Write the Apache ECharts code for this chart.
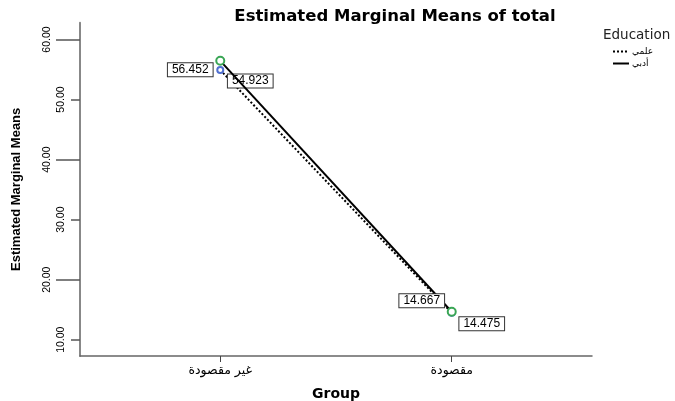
<!DOCTYPE html>
<html>
<head>
<meta charset="utf-8">
<title>Estimated Marginal Means of total</title>
<script src="https://cdn.jsdelivr.net/npm/echarts@6/dist/echarts.min.js"></script>
<style>
  html, body { margin: 0; padding: 0; background: #fff; }
  #main { width: 675px; height: 401px; }
</style>
</head>
<body>
<div id="main"></div>
<script>
// group categories (x positions 1 and 2)
var groups = ['غير مقصودة', 'مقصودة'];
var groupPos = [1, 2];
var seriesNames = ['علمي', 'أدبي'];
// estimated marginal means
var scientific = [54.923, 14.475];
var literary = [56.452, 14.667];
// y tick labels, staggered like SPSS
var yTicksOuter = [20, 40, 60];
var yTicksInner = [10, 30, 50];

var sans = "'Liberation Sans', Arial, sans-serif";

// label offsets [dx, dy] from each point
var offsSci = [[30, 11], [30, 11]];
var offsLit = [[-30, 9], [-30, -11]];

function buildData(vals, offs) {
  return vals.map(function (v, i) {
    return {
      value: [groupPos[i], v],
      label: { offset: offs[i] }
    };
  });
}

var labelStyle = {
  show: true,
  position: 'inside',
  formatter: function (p) { return p.value[1].toFixed(3); },
  color: '#000',
  fontFamily: sans,
  fontSize: 12,
  backgroundColor: '#fff',
  borderColor: '#333',
  borderWidth: 1,
  padding: [1, 4, 0, 4]
};

var tickLabel = {
  rotate: 90, fontFamily: sans, fontSize: 10.5, color: '#000',
  formatter: function (v) { return v.toFixed(2); }
};

var echart = echarts.init(document.getElementById('main'));
echart.setOption({
  animation: false,
  title: [{
    text: 'Estimated Marginal Means of total',
    left: 390, top: 3, textAlign: 'center',
    textStyle: { fontFamily: 'DejaVu Sans', fontSize: 16.5, fontWeight: 'bold', color: '#000' }
  }, {
    text: 'Education',
    left: 603, top: 28, padding: 0,
    textStyle: { fontFamily: 'DejaVu Sans', fontSize: 13.5, fontWeight: 'normal', color: '#222' }
  }],
  legend: {
    left: 612, top: 47, orient: 'vertical', padding: 0,
    itemWidth: 16, itemHeight: 8, itemGap: 3,
    itemStyle: { opacity: 0 },
    textStyle: { fontFamily: 'DejaVu Sans', fontSize: 9, color: '#000', padding: [0, 0, 0, -2] },
    data: seriesNames
  },
  grid: { left: 80, right: 83, top: 22.7, bottom: 45, outerBoundsMode: 'none', containLabel: false },
  xAxis: {
    type: 'value', min: 0.394, max: 2.606,
    name: 'Group', nameLocation: 'middle', nameGap: 31,
    nameTextStyle: { fontFamily: 'DejaVu Sans', fontSize: 14, fontWeight: 'bold', color: '#000' },
    splitLine: { show: false },
    axisLine: { lineStyle: { color: '#666', width: 1.5 } },
    axisTick: { customValues: groupPos, length: 6, lineStyle: { color: '#444' } },
    axisLabel: {
      customValues: groupPos, margin: 8,
      fontFamily: 'DejaVu Sans', fontSize: 12.5, color: '#000',
      formatter: function (v) { return groups[groupPos.indexOf(v)] || ''; }
    }
  },
  yAxis: [{
    type: 'value', min: 7.29, max: 62.8,
    name: 'Estimated Marginal Means', nameLocation: 'middle', nameGap: 57,
    nameTextStyle: { fontFamily: sans, fontSize: 13, fontWeight: 'bold', color: '#000' },
    splitLine: { show: false },
    axisLine: { show: true, lineStyle: { color: '#888', width: 2 } },
    axisTick: { customValues: yTicksOuter, length: 24, lineStyle: { color: '#555', width: 1.5 } },
    axisLabel: Object.assign({ customValues: yTicksOuter, margin: 27 }, tickLabel)
  }, {
    type: 'value', min: 7.29, max: 62.8, position: 'left',
    splitLine: { show: false },
    axisLine: { show: false },
    axisTick: { show: true, customValues: yTicksInner, length: 9, lineStyle: { color: '#555', width: 1.5 } },
    axisLabel: Object.assign({ customValues: yTicksInner, margin: 13 }, tickLabel)
  }],
  series: [{
    name: seriesNames[0], type: 'line',
    data: buildData(scientific, offsSci),
    symbol: 'emptyCircle', symbolSize: 6,
    itemStyle: { color: '#4f6fd0', borderWidth: 1.5 },
    lineStyle: { color: '#000', width: 2, type: [2, 2] },
    label: labelStyle,
    z: 2
  }, {
    name: seriesNames[1], type: 'line',
    data: buildData(literary, offsLit),
    symbol: 'emptyCircle', symbolSize: 8,
    itemStyle: { color: '#3aa655', borderWidth: 1.5 },
    lineStyle: { color: '#000', width: 2 },
    label: labelStyle,
    z: 3
  }]
});
</script>
</body>
</html>
